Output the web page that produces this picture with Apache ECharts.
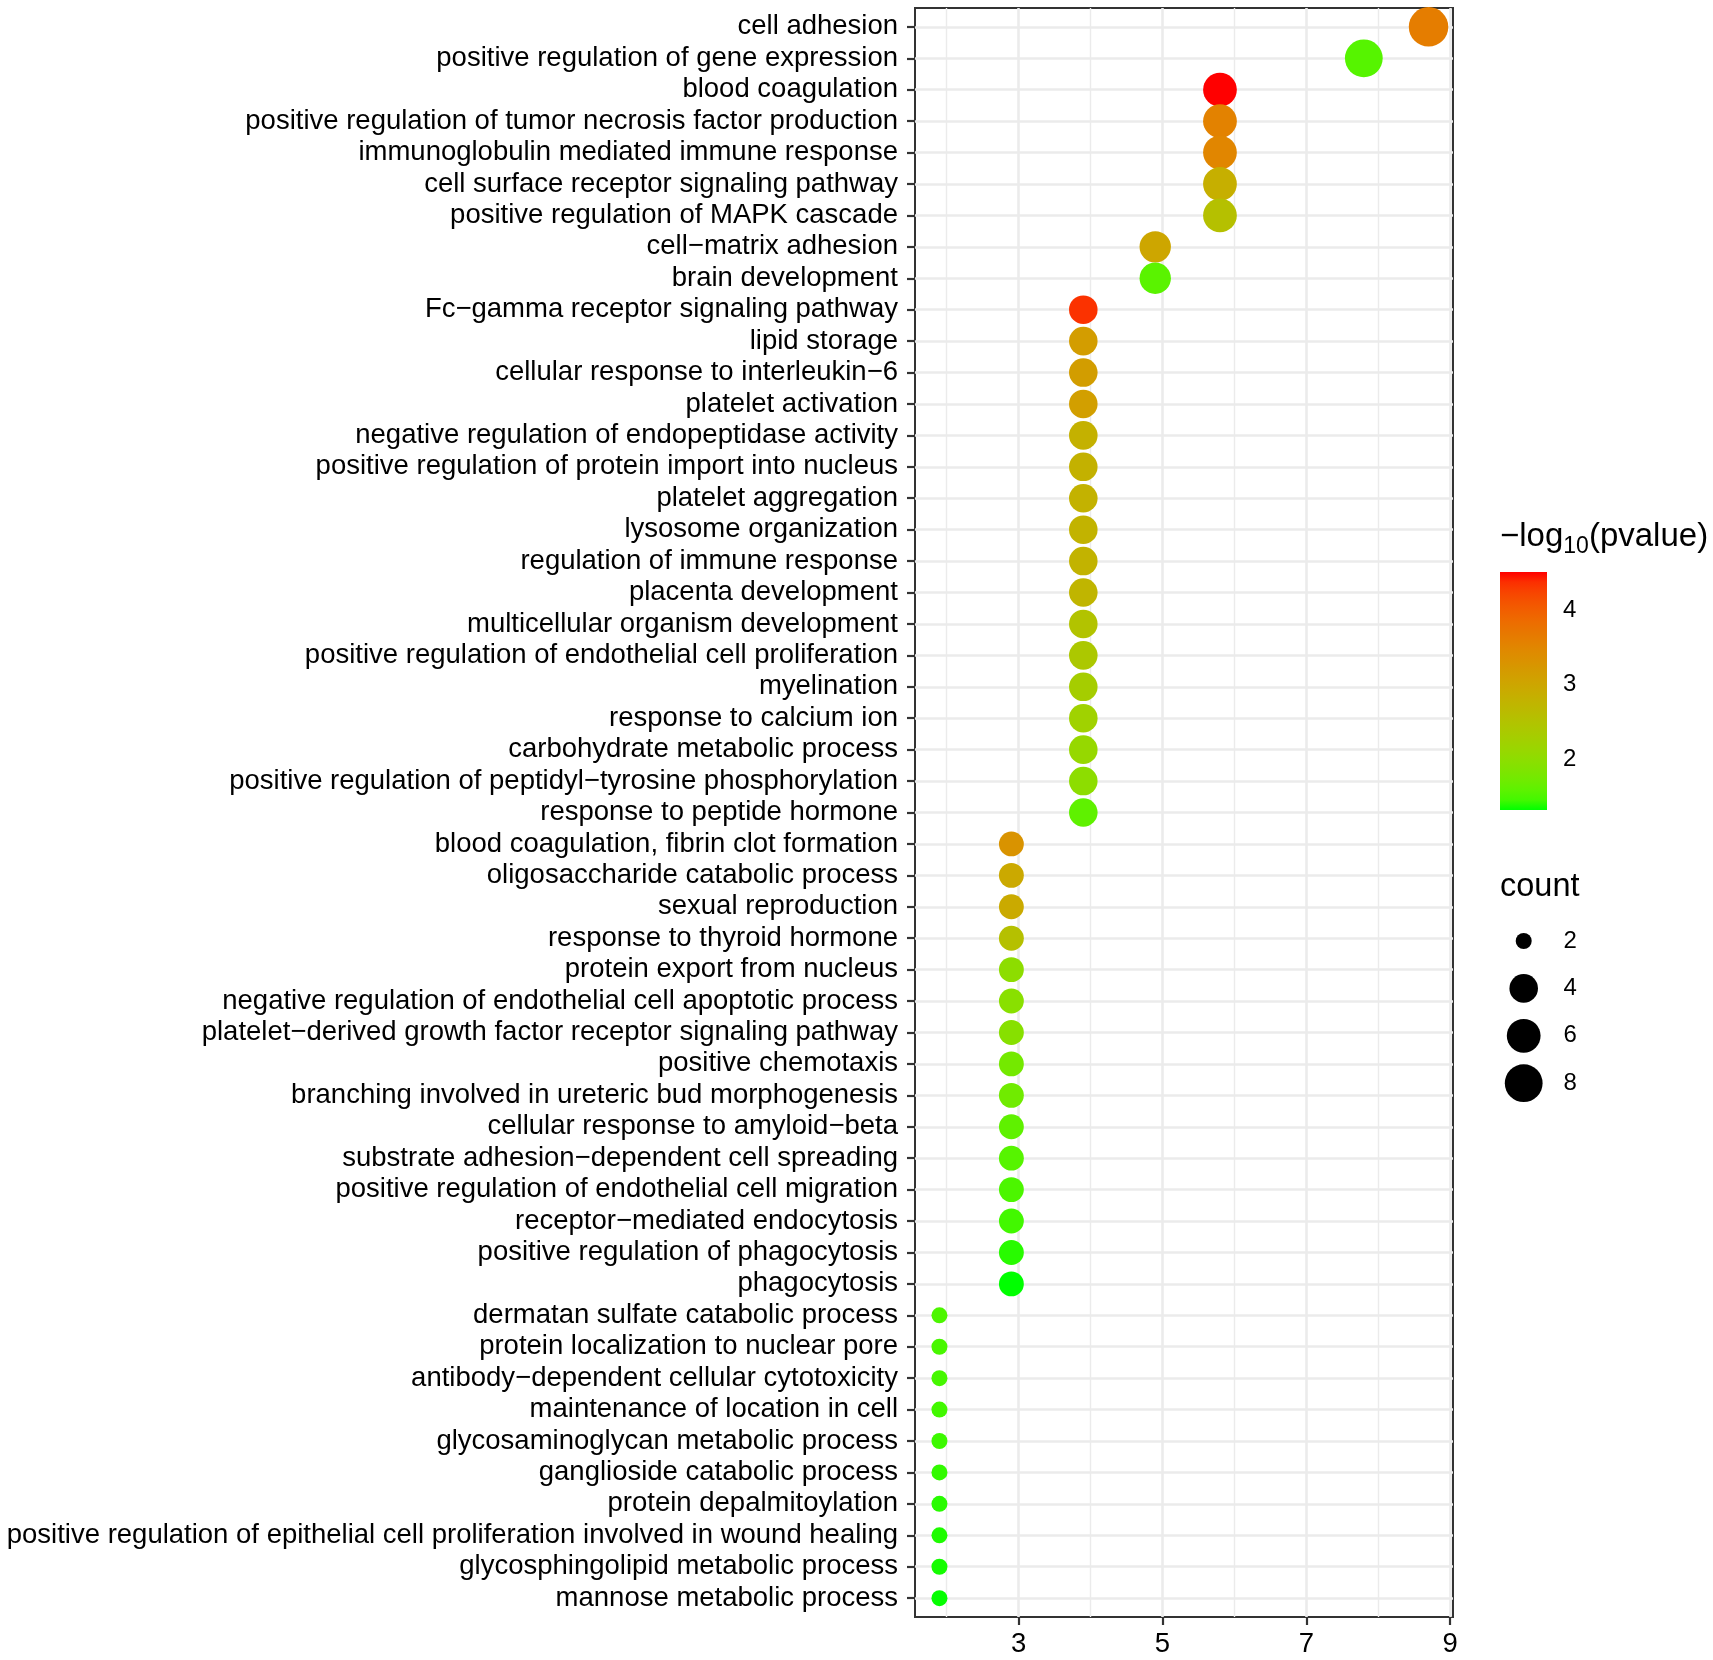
<!DOCTYPE html>
<html><head><meta charset="utf-8">
<script src="https://cdn.jsdelivr.net/npm/echarts@6/dist/echarts.min.js"></script>
<style>html,body{margin:0;padding:0;background:#fff}#c{width:1713px;height:1660px}</style>
</head><body><div id="c"></div>
<script>
// ---------- data ----------
const categories = [
  "cell adhesion",
  "positive regulation of gene expression",
  "blood coagulation",
  "positive regulation of tumor necrosis factor production",
  "immunoglobulin mediated immune response",
  "cell surface receptor signaling pathway",
  "positive regulation of MAPK cascade",
  "cell\u2212matrix adhesion",
  "brain development",
  "Fc\u2212gamma receptor signaling pathway",
  "lipid storage",
  "cellular response to interleukin\u22126",
  "platelet activation",
  "negative regulation of endopeptidase activity",
  "positive regulation of protein import into nucleus",
  "platelet aggregation",
  "lysosome organization",
  "regulation of immune response",
  "placenta development",
  "multicellular organism development",
  "positive regulation of endothelial cell proliferation",
  "myelination",
  "response to calcium ion",
  "carbohydrate metabolic process",
  "positive regulation of peptidyl\u2212tyrosine phosphorylation",
  "response to peptide hormone",
  "blood coagulation, fibrin clot formation",
  "oligosaccharide catabolic process",
  "sexual reproduction",
  "response to thyroid hormone",
  "protein export from nucleus",
  "negative regulation of endothelial cell apoptotic process",
  "platelet\u2212derived growth factor receptor signaling pathway",
  "positive chemotaxis",
  "branching involved in ureteric bud morphogenesis",
  "cellular response to amyloid\u2212beta",
  "substrate adhesion\u2212dependent cell spreading",
  "positive regulation of endothelial cell migration",
  "receptor\u2212mediated endocytosis",
  "positive regulation of phagocytosis",
  "phagocytosis",
  "dermatan sulfate catabolic process",
  "protein localization to nuclear pore",
  "antibody\u2212dependent cellular cytotoxicity",
  "maintenance of location in cell",
  "glycosaminoglycan metabolic process",
  "ganglioside catabolic process",
  "protein depalmitoylation",
  "positive regulation of epithelial cell proliferation involved in wound healing",
  "glycosphingolipid metabolic process",
  "mannose metabolic process"
];
const geneRatio = [
  8.7, 7.8, 5.8, 5.8, 5.8, 5.8, 5.8, 4.9, 4.9,
  3.9, 3.9, 3.9, 3.9, 3.9, 3.9, 3.9, 3.9, 3.9, 3.9, 3.9, 3.9, 3.9, 3.9, 3.9, 3.9, 3.9,
  2.9, 2.9, 2.9, 2.9, 2.9, 2.9, 2.9, 2.9, 2.9, 2.9, 2.9, 2.9, 2.9, 2.9, 2.9,
  1.9, 1.9, 1.9, 1.9, 1.9, 1.9, 1.9, 1.9, 1.9, 1.9
];
const counts = [
  9, 8, 6, 6, 6, 6, 6, 5, 5,
  4, 4, 4, 4, 4, 4, 4, 4, 4, 4, 4, 4, 4, 4, 4, 4, 4,
  3, 3, 3, 3, 3, 3, 3, 3, 3, 3, 3, 3, 3, 3, 3,
  2, 2, 2, 2, 2, 2, 2, 2, 2, 2
];
const negLog10P = [
  3.62, 1.55, 4.51, 3.55, 3.5, 2.85, 2.55, 3.0, 1.57,
  4.35, 3.15, 3.14, 3.12, 2.82, 2.81, 2.8, 2.79, 2.78, 2.75, 2.5, 2.4, 2.3, 2.22, 2.1, 2.0, 1.6,
  3.3, 2.95, 2.93, 2.55, 2.0, 1.95, 1.93, 1.75, 1.72, 1.6, 1.55, 1.5, 1.45, 1.4, 1.32,
  1.5, 1.48, 1.47, 1.45, 1.44, 1.42, 1.4, 1.38, 1.36, 1.33
];
const xMajorTicks = [3, 5, 7, 9];
const xMinorTicks = [2, 4, 6, 8];
const colorTicks = [2, 3, 4];
const sizeLegendValues = [2, 4, 6, 8];
const colorMin = 1.32, colorMax = 4.51;
const countMin = 2, countMax = 9;
const xMin = 1.56, xMax = 9.04;

// ---------- helpers ----------
const FONT = '"Liberation Sans", Arial, Helvetica, sans-serif';
function s2l(c){c/=255;return c<=0.04045?c/12.92:Math.pow((c+0.055)/1.055,2.4);}
function l2s(c){c=Math.max(0,Math.min(1,c));return Math.round(255*(c<=0.0031308?12.92*c:1.055*Math.pow(c,1/2.4)-0.055));}
function rgbToLab(rgb){
  const R=s2l(rgb[0]),G=s2l(rgb[1]),B=s2l(rgb[2]);
  const X=(0.4124*R+0.3576*G+0.1805*B)/0.95047, Y=0.2126*R+0.7152*G+0.0722*B, Z=(0.0193*R+0.1192*G+0.9505*B)/1.08883;
  const f=t=>t>0.008856?Math.cbrt(t):7.787*t+16/116;
  const fx=f(X),fy=f(Y),fz=f(Z);
  return [116*fy-16,500*(fx-fy),200*(fy-fz)];
}
function labToRgb(lab){
  const fy=(lab[0]+16)/116, fx=fy+lab[1]/500, fz=fy-lab[2]/200;
  const fi=t=>{const t3=t*t*t;return t3>0.008856?t3:(t-16/116)/7.787;};
  const X=0.95047*fi(fx),Y=fi(fy),Z=1.08883*fi(fz);
  const R=3.2406*X-1.5372*Y-0.4986*Z, G=-0.9689*X+1.8758*Y+0.0415*Z, B=0.0557*X-0.2040*Y+1.0570*Z;
  return 'rgb('+l2s(R)+','+l2s(G)+','+l2s(B)+')';
}
const labLow = rgbToLab([0,255,0]), labHigh = rgbToLab([255,0,0]);
const NSTOP = 24;
const gradColors = [];
for (let i = 0; i <= NSTOP; i++) {
  const t = i / NSTOP;
  gradColors.push(labToRgb([0,1,2].map(k => labLow[k] + (labHigh[k]-labLow[k]) * t)));
}
function sizeFor(c){ return 16 + 23.5 * Math.sqrt((c - countMin) / (countMax - countMin)); }

const indices = categories.map((_, i) => i);
const mainData = categories.map((name, i) => [geneRatio[i], i, counts[i], negLog10P[i], name]);

// ---------- title measuring ----------
const mctx = document.createElement('canvas').getContext('2d');
function tw(txt, fs){ mctx.font = fs + 'px ' + FONT; return mctx.measureText(txt).width; }
const tFs = 33, sFs = 23, titleX = 1500, titleBase = 548;
const w1 = tw('\u2212log', tFs), w2 = tw('10', sFs);

const chart = echarts.init(document.getElementById('c'));
chart.setOption({
  backgroundColor: '#ffffff',
  animation: false,
  textStyle: { fontFamily: FONT },
  grid: [
    { left: 915, right: 260, top: 8, bottom: 43, show: true, borderColor: '#333333', borderWidth: 2, backgroundColor: '#ffffff', containLabel: false },
    { left: 1500, width: 47, top: 572, height: 238, show: false },
    { left: 1500, width: 47.4, top: 917.3, height: 189.6, show: false }
  ],
  xAxis: [
    { type: 'value', gridIndex: 0, min: xMin, max: xMax, position: 'bottom',
      axisLine: { show: false, onZero: false },
      axisTick: { show: true, customValues: xMajorTicks, length: 8, lineStyle: { color: '#333333', width: 2.2 } },
      axisLabel: { customValues: xMajorTicks, fontSize: 27.5, color: '#000', margin: 13, fontFamily: FONT },
      splitLine: { show: true, lineStyle: { color: '#ebebeb', width: 2.6 } } },
    { type: 'value', gridIndex: 0, min: xMin, max: xMax, position: 'top',
      axisLine: { show: false, onZero: false },
      axisTick: { show: false, customValues: xMinorTicks },
      axisLabel: { show: false },
      splitLine: { show: true, lineStyle: { color: '#ebebeb', width: 1.4 } } },
    { type: 'category', gridIndex: 1, data: [''], show: false, axisLine: { onZero: false } },
    { type: 'value', gridIndex: 2, min: 0, max: 1, show: false, axisLine: { onZero: false } }
  ],
  yAxis: [
    { type: 'value', gridIndex: 0, inverse: true, min: -0.6, max: categories.length - 0.4,
      axisLine: { show: false, onZero: false },
      axisTick: { show: true, customValues: indices, length: 8, lineStyle: { color: '#333333', width: 2.2 } },
      axisLabel: { customValues: indices, formatter: v => categories[Math.round(v)], fontSize: 27.5, color: '#000', margin: 17, padding: [5, 0, 0, 0], fontFamily: FONT },
      splitLine: { show: true, lineStyle: { color: '#ebebeb', width: 2.6 } } },
    { type: 'value', gridIndex: 1, min: colorMin, max: colorMax, position: 'right',
      axisLine: { show: false, onZero: false },
      axisTick: { show: true, inside: true, length: 9.5, customValues: colorTicks, lineStyle: { color: '#ffffff', width: 1.6 } },
      axisLabel: { customValues: colorTicks, fontSize: 24, color: '#000', margin: 16, fontFamily: FONT },
      splitLine: { show: false } },
    { type: 'value', gridIndex: 1, min: colorMin, max: colorMax, position: 'left',
      axisLine: { show: false, onZero: false },
      axisTick: { show: true, inside: true, length: 9.5, customValues: colorTicks, lineStyle: { color: '#ffffff', width: 1.6 } },
      axisLabel: { show: false },
      splitLine: { show: false } },
    { type: 'category', gridIndex: 2, inverse: true, position: 'right',
      data: sizeLegendValues.map(String),
      axisLine: { show: false, onZero: false }, axisTick: { show: false },
      axisLabel: { fontSize: 24, color: '#000', margin: 16, fontFamily: FONT },
      splitLine: { show: false } }
  ],
  visualMap: [{
    type: 'continuous', show: false, seriesIndex: 0, dimension: 3,
    min: colorMin, max: colorMax, inRange: { color: gradColors }
  }],
  series: [
    { type: 'scatter', xAxisIndex: 0, yAxisIndex: 0, data: mainData,
      symbol: 'circle', symbolSize: (v) => sizeFor(v[2]),
      itemStyle: { opacity: 1, borderWidth: 0 }, clip: false, silent: true },
    { type: 'bar', xAxisIndex: 2, yAxisIndex: 1, stack: 'cb', data: [colorMin], barWidth: '100%',
      itemStyle: { color: 'rgba(0,0,0,0)' }, silent: true },
    { type: 'bar', xAxisIndex: 2, yAxisIndex: 1, stack: 'cb', data: [colorMax - colorMin], barWidth: '100%',
      itemStyle: { opacity: 1, color: new echarts.graphic.LinearGradient(0, 1, 0, 0,
        gradColors.map((c, i) => ({ offset: i / NSTOP, color: c }))) }, silent: true },
    { type: 'scatter', xAxisIndex: 3, yAxisIndex: 3,
      data: sizeLegendValues.map((v, i) => [0.5, i, v]),
      symbol: 'circle', symbolSize: (v) => sizeFor(v[2]),
      itemStyle: { color: '#000000', opacity: 1 }, silent: true, clip: false }
  ],
  graphic: [
    { type: 'text', left: titleX, top: titleBase - 0.84 * tFs, silent: true,
      style: { text: '\u2212log', font: tFs + 'px ' + FONT, fill: '#000' } },
    { type: 'text', left: titleX + w1, top: titleBase + 6 - 0.84 * sFs, silent: true,
      style: { text: '10', font: sFs + 'px ' + FONT, fill: '#000' } },
    { type: 'text', left: titleX + w1 + w2, top: titleBase - 0.84 * tFs, silent: true,
      style: { text: '(pvalue)', font: tFs + 'px ' + FONT, fill: '#000' } },
    { type: 'text', left: 1500, top: 898 - 0.84 * 32.5, silent: true,
      style: { text: 'count', font: '32.5px ' + FONT, fill: '#000' } }
  ]
});
</script>
</body></html>
